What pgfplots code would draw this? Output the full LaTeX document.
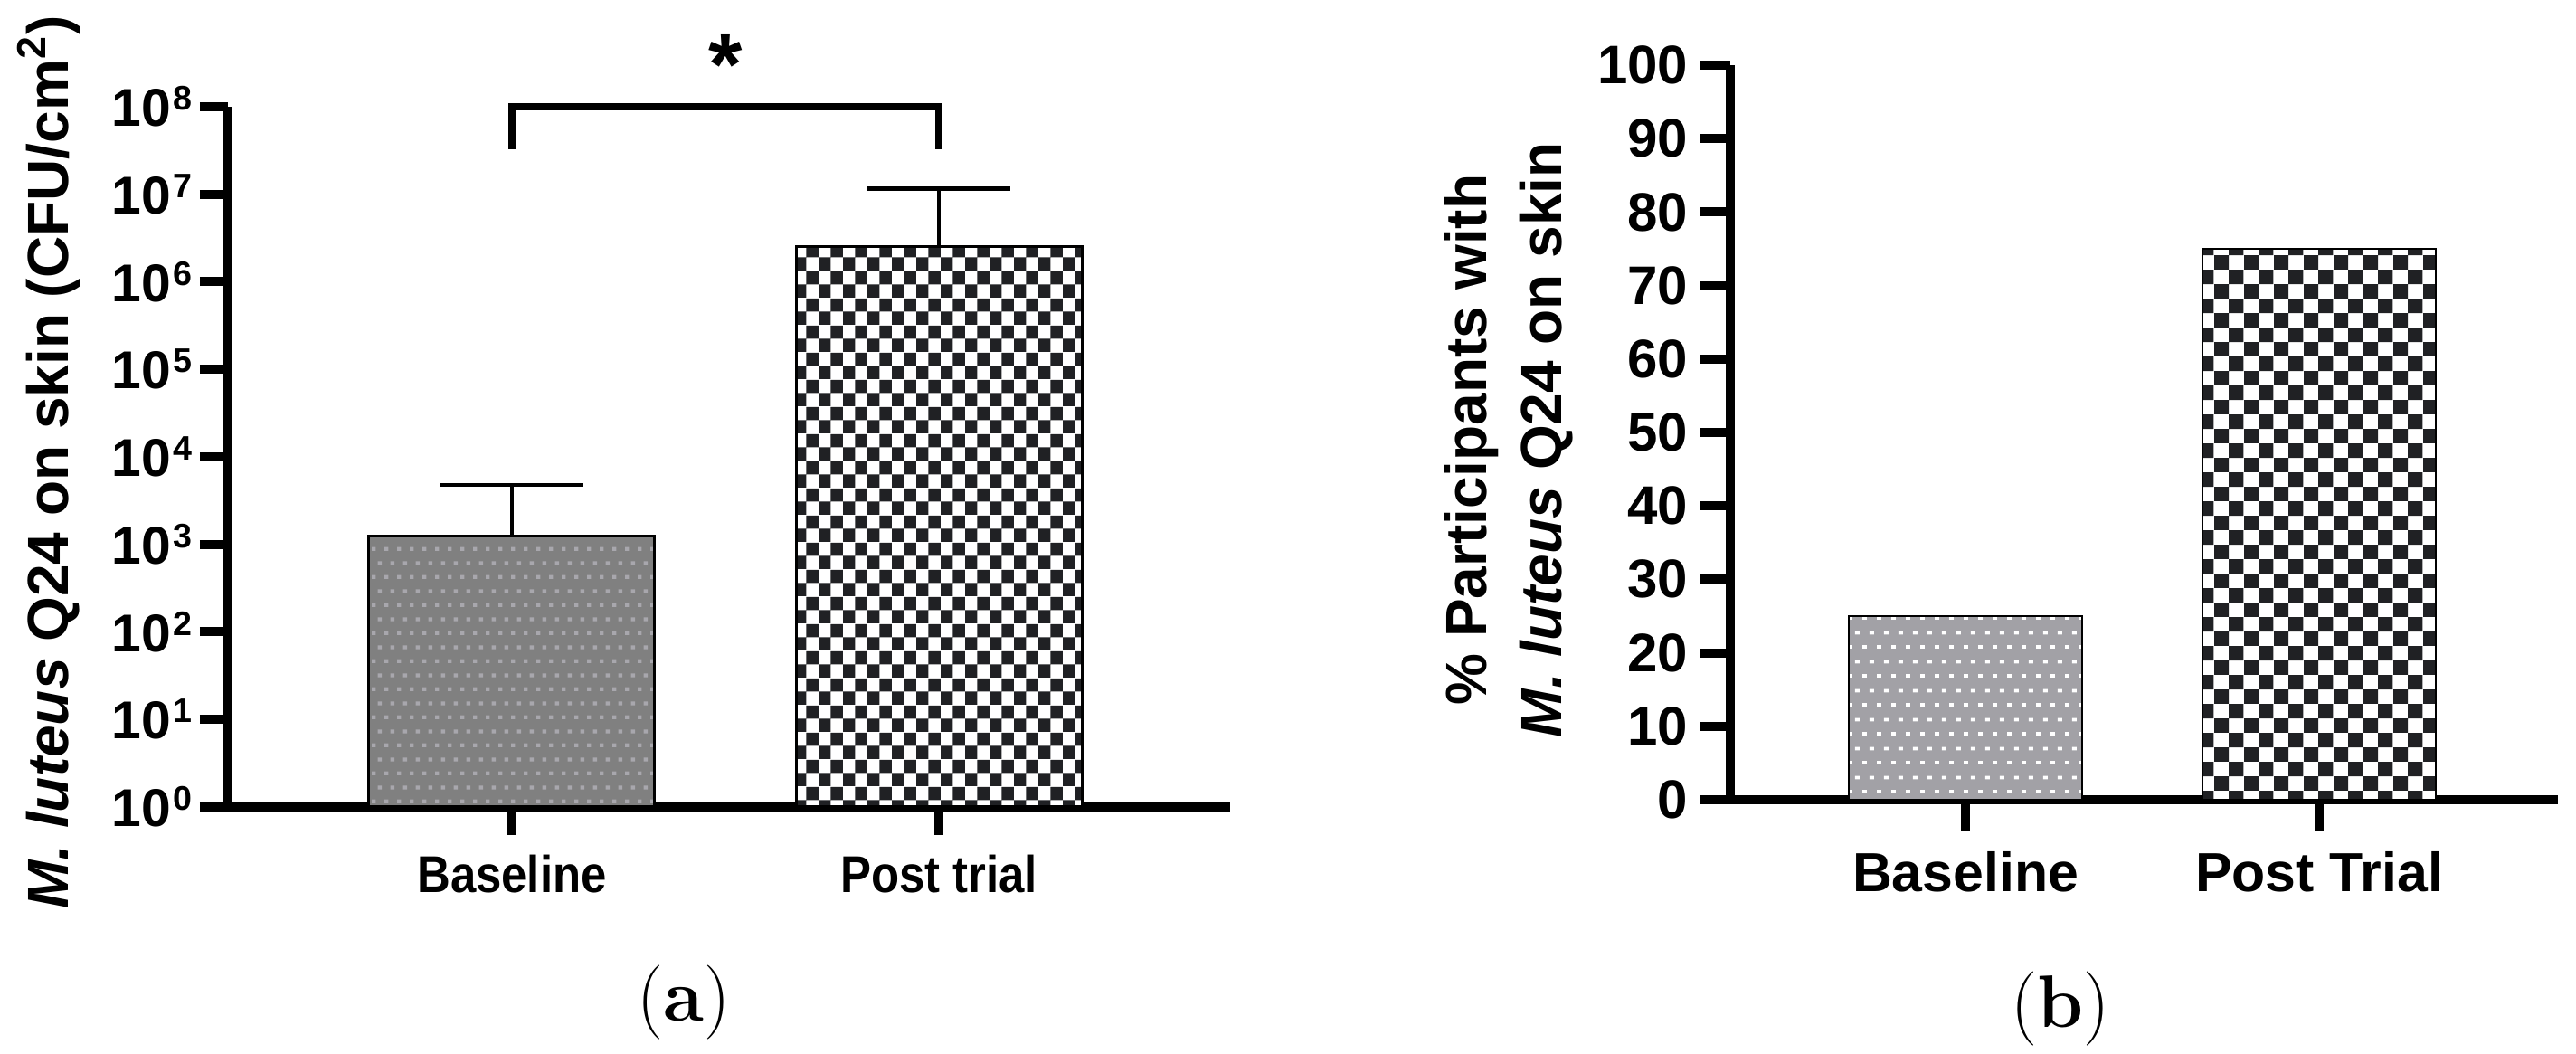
\documentclass[border=0pt]{standalone}
\usepackage{pgfplots}
\pgfplotsset{compat=1.18}
\usepackage{fontspec}
\newfontfamily\arial{Liberation Sans}
\usetikzlibrary{patterns}

\definecolor{grayL}{HTML}{808080}
\definecolor{dotL}{HTML}{A8A7AD}
\definecolor{grayR}{HTML}{A2A1A6}
\definecolor{checkD}{HTML}{202124}

\pgfdeclarepatternformonly{checkL}{\pgfqpoint{0pt}{0pt}}{\pgfqpoint{6.86pt}{7.4pt}}{\pgfqpoint{6.86pt}{7.4pt}}{%
  \pgfpathrectangle{\pgfqpoint{0pt}{0pt}}{\pgfqpoint{3.43pt}{3.7pt}}%
  \pgfpathrectangle{\pgfqpoint{3.43pt}{3.7pt}}{\pgfqpoint{3.43pt}{3.7pt}}%
  \pgfusepath{fill}}
\pgfdeclarepatternformonly{checkR}{\pgfqpoint{0pt}{0pt}}{\pgfqpoint{8.16pt}{8.12pt}}{\pgfqpoint{8.16pt}{8.12pt}}{%
  \pgfpathrectangle{\pgfqpoint{0pt}{0pt}}{\pgfqpoint{4.08pt}{4.06pt}}%
  \pgfpathrectangle{\pgfqpoint{4.08pt}{4.06pt}}{\pgfqpoint{4.08pt}{4.06pt}}%
  \pgfusepath{fill}}
\pgfdeclarepatternformonly{dotsL}{\pgfqpoint{0pt}{0pt}}{\pgfqpoint{3.43pt}{7.7pt}}{\pgfqpoint{3.43pt}{7.7pt}}{%
  \pgfpathrectangle{\pgfqpoint{0pt}{0pt}}{\pgfqpoint{1.1pt}{1.1pt}}%
  \pgfpathrectangle{\pgfqpoint{1.715pt}{3.85pt}}{\pgfqpoint{1.1pt}{1.1pt}}%
  \pgfusepath{fill}}
\pgfdeclarepatternformonly{dotsR}{\pgfqpoint{0pt}{0pt}}{\pgfqpoint{4.12pt}{8pt}}{\pgfqpoint{4.12pt}{8pt}}{%
  \pgfpathrectangle{\pgfqpoint{0pt}{0pt}}{\pgfqpoint{1.25pt}{1pt}}%
  \pgfpathrectangle{\pgfqpoint{2.06pt}{4pt}}{\pgfqpoint{1.25pt}{1pt}}%
  \pgfusepath{fill}}

\newcommand{\tp}[1]{10\hspace{0.6pt}\raisebox{4.5pt}{\fontsize{9.4}{10}\selectfont #1}}

\pgfplotsset{
  panel/.style={
    scale only axis, anchor=south west, clip=false,
    axis x line=bottom, axis y line=left,
    axis line style={-, line width=2.5pt, black},
    every outer x axis line/.append style={-},
    every outer y axis line/.append style={-},
    tick align=outside,
    tick style={line width=2.5pt, black},
    minor tick style={draw=none}, minor tick length=0pt,
    xtick={0,1},
  }
}

\begin{document}
\begin{tikzpicture}
\path[use as bounding box] (0,0) rectangle (712pt,291.25pt);

% ---------------- panel (a) ----------------
\begin{axis}[panel,
  at={(63pt,68.25pt)}, width=277pt, height=193.5pt,
  ymode=log, ymin=1, ymax=1e8,
  xmin=-0.665, xmax=1.682,
  major tick length=7.75pt,
  ytick={1,10,100,1000,10000,100000,1000000,10000000,100000000},
  yticklabels={\tp{0},\tp{1},\tp{2},\tp{3},\tp{4},\tp{5},\tp{6},\tp{7},\tp{8}},
  yticklabel style={font=\fontsize{14.7}{16}\selectfont\arial\bfseries, inner sep=0pt, xshift=-2pt},
  xticklabels={\scalebox{0.89}[1]{Baseline}, \scalebox{0.89}[1]{Post trial}},
  xticklabel style={font=\fontsize{14.3}{16}\selectfont\arial\bfseries, anchor=base, inner sep=0pt, yshift=-16pt},
  ylabel={\textit{M. luteus} Q24 on skin (CFU/cm\textsuperscript{2})},
  every axis y label/.style={at={(axis description cs:-0.179,0.492)}, rotate=90, anchor=center,
    font=\fontsize{16}{18}\selectfont\arial\bfseries},
]
\addplot[ybar, bar width=79pt, bar shift=0pt, draw=black, line width=0.75pt,
  preaction={fill=grayL}, pattern=dotsL, pattern color=dotL]
  coordinates {(0,1260)};
\addplot[ybar, bar width=79pt, bar shift=0pt, draw=black, line width=0.75pt,
  preaction={fill=white}, pattern=checkL, pattern color=checkD]
  coordinates {(1,2500000)};
% error bars (mean + SD, upward only)
\addplot[black, line width=1.2pt] coordinates {(0,1260) (0,4790)};
\addplot[black, line width=1.2pt] coordinates {(-0.167,4790) (0.167,4790)};
\addplot[black, line width=1.2pt] coordinates {(1,2500000) (1,11500000)};
\addplot[black, line width=1.2pt] coordinates {(0.833,11500000) (1.167,11500000)};
\draw[line width=1.8pt, line join=miter] (axis cs:0,3.3e7) -- (axis cs:0,1e8) -- (axis cs:1,1e8) -- (axis cs:1,3.3e7);
\node[font=\fontsize{24}{24}\selectfont\arial\bfseries, inner sep=0pt, anchor=north] at (axis cs:0.5,6.8e8) {*};
\node[font=\fontsize{20.5}{24}\selectfont] at (axis description cs:0.455,-0.279) {(\textbf{a})};
\end{axis}

% ---------------- panel (b) ----------------
\begin{axis}[panel,
  at={(478.25pt,70.25pt)}, width=228.75pt, height=203pt,
  ymin=0, ymax=100, ytick={0,10,...,100},
  xmin=-0.665, xmax=1.675,
  major tick length=8.5pt,
  /pgf/number format/assume math mode=true,
  yticklabel style={font=\fontsize{15}{16}\selectfont\arial\bfseries, inner sep=0pt, xshift=-3pt},
  xticklabels={Baseline, Post Trial},
  xticklabel style={font=\fontsize{15.2}{16}\selectfont\arial\bfseries, anchor=base, inner sep=0pt, yshift=-17pt},
  ylabel={\% Participants with\\\textit{M. luteus} Q24 on skin},
  every axis y label/.style={at={(axis description cs:-0.268,0.49)}, rotate=90, anchor=center, align=center,
    font=\fontsize{16}{20.7}\selectfont\arial\bfseries},
]
\addplot[ybar, bar width=64.5pt, bar shift=0pt, draw=black, line width=0.7pt,
  preaction={fill=grayR}, pattern=dotsR, pattern color=white]
  coordinates {(0,25)};
\addplot[ybar, bar width=64.5pt, bar shift=0pt, draw=black, line width=0.7pt,
  preaction={fill=white}, pattern=checkR, pattern color=checkD]
  coordinates {(1,75)};
\node[font=\fontsize{20.5}{24}\selectfont] at (axis description cs:0.399,-0.284) {(\textbf{b})};
\end{axis}
\end{tikzpicture}
\end{document}
